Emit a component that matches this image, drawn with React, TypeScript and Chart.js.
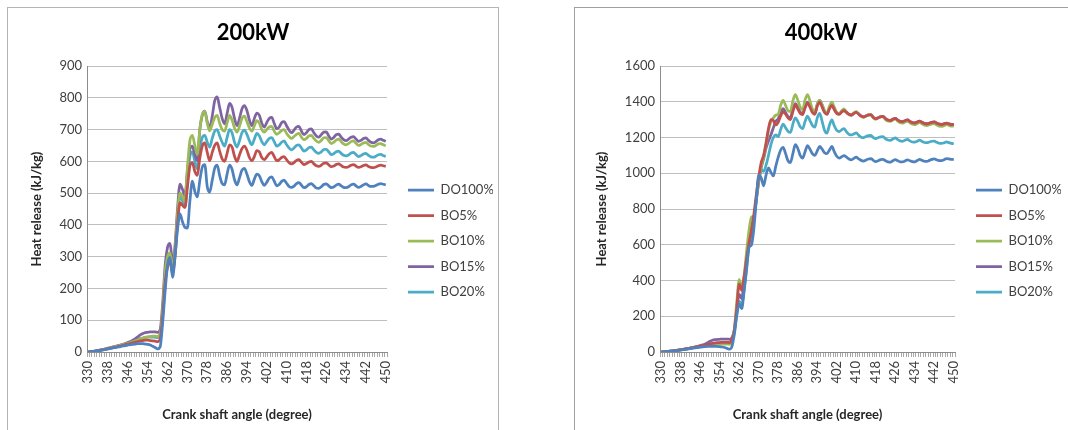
import React, { useEffect, useRef } from "react";
import { Chart, registerables } from "chart.js";
Chart.register(...registerables);

const ANGLES = [
  330, 331, 332, 333, 334, 335, 336, 337, 338, 339,
  340, 341, 342, 343, 344, 345, 346, 347, 348, 349,
  350, 351, 352, 353, 354, 355, 356, 357, 358, 359,
  360, 361, 362, 363, 364, 365, 366, 367, 368, 369,
  370, 371, 372, 373, 374, 375, 376, 377, 378, 379,
  380, 381, 382, 383, 384, 385, 386, 387, 388, 389,
  390, 391, 392, 393, 394, 395, 396, 397, 398, 399,
  400, 401, 402, 403, 404, 405, 406, 407, 408, 409,
  410, 411, 412, 413, 414, 415, 416, 417, 418, 419,
  420, 421, 422, 423, 424, 425, 426, 427, 428, 429,
  430, 431, 432, 433, 434, 435, 436, 437, 438, 439,
  440, 441, 442, 443, 444, 445, 446, 447, 448, 449,
  450,
];
const TICK_ANGLES = [330, 338, 346, 354, 362, 370, 378, 386, 394, 402, 410, 418, 426, 434, 442, 450];
const SERIES_NAMES = ["DO100%", "BO5%", "BO10%", "BO15%", "BO20%"];
const COLORS = ["#4F81BD", "#C0504D", "#9BBB59", "#8064A2", "#4BACC6"];

// ---------- 200 kW ----------
const DO100_200 = [
  0, 1, 2, 3, 4, 5, 7, 8, 10, 11,
  13, 14, 16, 17, 19, 20, 22, 23, 24, 25,
  26, 26, 26, 25, 24, 22, 18, 14, 10, 16,
  90, 190, 275, 298, 235, 300, 385, 435, 410, 392,
  390, 475, 538, 505, 488, 540, 582, 590, 520, 503,
  540, 578, 588, 555, 530, 526, 560, 588, 575, 542,
  526, 548, 572, 578, 560, 536, 524, 544, 560, 555,
  536, 524, 534, 547, 551, 538, 523, 527, 537, 541,
  531, 521, 518, 522, 530, 533, 525, 517, 520, 527,
  530, 523, 516, 515, 520, 527, 529, 523, 517, 519,
  525, 528, 523, 518, 517, 520, 526, 528, 523, 518,
  521, 526, 529, 524, 521, 521, 524, 528, 530, 528,
  526,
];
const BO5_200 = [
  0, 1, 2, 3, 4, 6, 7, 9, 10, 12,
  14, 15, 17, 19, 21, 23, 25, 27, 29, 31,
  33, 35, 36, 37, 37, 36, 35, 34, 33, 40,
  110, 215, 268, 285, 248, 300, 400, 470, 462, 455,
  518, 585, 596, 568, 556, 610, 648, 658, 628, 602,
  628, 650, 658, 632, 608, 600, 625, 652, 645, 616,
  600, 620, 640, 648, 635, 612, 602, 615, 634, 630,
  612, 605, 614, 624, 628, 615, 602, 605, 612, 615,
  605, 596, 592, 596, 603, 605, 597, 590, 593, 598,
  600, 592, 586, 584, 588, 594, 595, 589, 583, 585,
  590, 592, 587, 582, 581, 583, 588, 590, 585, 581,
  583, 587, 589, 584, 581, 580, 582, 586, 588, 586,
  584,
];
const BO10_200 = [
  0, 1, 2, 3, 5, 6, 8, 9, 11, 13,
  15, 17, 19, 21, 23, 25, 27, 30, 32, 35,
  38, 41, 44, 46, 48, 49, 50, 50, 49, 55,
  130, 250, 300, 312, 262, 322, 432, 500, 490, 472,
  580, 665, 682, 650, 622, 700, 748, 757, 720, 696,
  716, 738, 745, 720, 700, 695, 720, 745, 730, 705,
  692, 710, 735, 742, 725, 705, 695, 712, 728, 720,
  700, 692, 700, 708, 710, 695, 685, 690, 697, 700,
  688, 678, 672, 678, 685, 688, 676, 668, 672, 680,
  682, 672, 664, 660, 666, 674, 675, 665, 656, 660,
  667, 670, 662, 655, 652, 656, 662, 664, 657, 650,
  653, 658, 660, 653, 648, 647, 650, 655, 656, 652,
  649,
];
const BO15_200 = [
  0, 1, 2, 4, 5, 7, 8, 10, 12, 14,
  16, 18, 20, 22, 24, 27, 30, 33, 37, 42,
  48, 54, 58, 61, 62, 63, 63, 63, 62, 70,
  150, 270, 330, 342, 282, 335, 450, 528, 512, 492,
  568, 638, 648, 620, 602, 700, 745, 758, 725, 705,
  742, 790, 803, 770, 735, 718, 750, 782, 770, 735,
  712, 735, 765, 775, 760, 730, 712, 735, 752, 745,
  720, 708, 722, 735, 738, 720, 703, 708, 722, 725,
  712, 698, 690, 698, 708, 710, 695, 684, 690, 700,
  702, 690, 680, 676, 684, 692, 693, 680, 670, 675,
  684, 686, 676, 668, 665, 670, 676, 678, 670, 663,
  666, 672, 674, 666, 660, 658, 662, 668, 670, 666,
  663,
];
const BO20_200 = [
  0, 1, 2, 3, 5, 6, 8, 9, 11, 13,
  15, 17, 19, 21, 24, 26, 29, 31, 34, 37,
  40, 42, 44, 46, 47, 47, 47, 46, 45, 60,
  120, 238, 288, 300, 256, 312, 420, 490, 476, 456,
  540, 615, 630, 600, 576, 640, 675, 682, 660, 645,
  672, 695, 700, 680, 660, 648, 675, 700, 690, 660,
  645, 665, 690, 698, 685, 665, 652, 670, 688, 680,
  662, 652, 662, 672, 675, 662, 648, 652, 660, 664,
  652, 642, 636, 642, 650, 652, 642, 632, 636, 643,
  645, 636, 628, 625, 630, 637, 638, 630, 621, 624,
  630, 632, 625, 619, 617, 620, 626, 628, 621, 615,
  618, 623, 625, 619, 614, 613, 616, 621, 622, 618,
  615,
];

// ---------- 400 kW ----------
const DO100_400 = [
  0, 1, 2, 3, 5, 6, 8, 9, 11, 13,
  15, 17, 19, 21, 23, 25, 27, 29, 30, 31,
  32, 32, 32, 31, 30, 28, 25, 20, 16, 30,
  100, 205, 268, 242, 340, 460, 585, 598, 690, 850,
  990, 975, 930, 990, 1030, 1005, 985, 1040, 1090, 1130,
  1145, 1110, 1070, 1060, 1110, 1160, 1140, 1100, 1085, 1120,
  1155, 1135, 1110, 1100, 1125, 1150, 1135, 1115, 1110, 1130,
  1150, 1120, 1095, 1085, 1092, 1098, 1090, 1080, 1075, 1083,
  1090, 1080, 1072, 1068, 1074, 1080, 1082, 1072, 1065, 1070,
  1076, 1078, 1070, 1064, 1062, 1070, 1076, 1070, 1064, 1063,
  1069, 1075, 1070, 1065, 1064, 1071, 1077, 1072, 1067, 1066,
  1072, 1078, 1080, 1075, 1071, 1070, 1076, 1082, 1080, 1077,
  1078,
];
const BO5_400 = [
  0, 1, 2, 4, 5, 7, 9, 11, 13, 15,
  17, 19, 22, 24, 27, 30, 33, 36, 39, 42,
  45, 48, 50, 52, 53, 54, 54, 54, 53, 70,
  120, 250, 380, 345, 420, 520, 610, 680, 770, 880,
  980, 1060, 1100, 1170, 1250, 1300, 1295, 1270, 1285, 1320,
  1345, 1330, 1310, 1300, 1345, 1382, 1360, 1335, 1328, 1365,
  1392, 1370, 1340, 1330, 1375, 1398, 1370, 1340, 1330, 1360,
  1380, 1355, 1335, 1330, 1342, 1350, 1340, 1330, 1325, 1335,
  1341, 1330, 1320, 1315, 1320, 1326, 1327, 1312, 1305, 1310,
  1316, 1318, 1305, 1297, 1295, 1302, 1307, 1297, 1290, 1288,
  1294, 1299, 1290, 1283, 1281, 1286, 1291, 1284, 1278, 1276,
  1280, 1285, 1287, 1280, 1274, 1272, 1276, 1280, 1276, 1272,
  1272,
];
const BO10_400 = [
  0, 1, 2, 3, 5, 6, 8, 10, 12, 14,
  16, 18, 20, 23, 25, 28, 30, 33, 35, 37,
  39, 41, 42, 43, 44, 44, 44, 44, 43, 60,
  130, 280, 405, 362, 430, 560, 680, 755, 760, 860,
  960, 1040, 1090, 1160, 1240, 1290, 1310, 1325, 1330, 1380,
  1408, 1380, 1350, 1345, 1405, 1440, 1410, 1370, 1355, 1410,
  1440, 1405, 1360, 1345, 1385, 1408, 1385, 1350, 1338, 1375,
  1398, 1370, 1340, 1332, 1350, 1360, 1340, 1328, 1324, 1336,
  1345, 1330, 1318, 1312, 1320, 1328, 1330, 1310, 1302, 1310,
  1315, 1316, 1300, 1292, 1290, 1298, 1304, 1292, 1282, 1280,
  1287, 1292, 1282, 1274, 1272, 1278, 1285, 1276, 1269, 1267,
  1271, 1276, 1278, 1270, 1264, 1262, 1266, 1272, 1268, 1264,
  1264,
];
const BO15_400 = [
  0, 1, 2, 4, 5, 7, 9, 11, 13, 15,
  18, 20, 23, 26, 29, 32, 36, 40, 45, 52,
  60, 66, 69, 70, 71, 72, 72, 72, 71, 80,
  125, 240, 322, 298, 400, 510, 610, 700, 750, 850,
  950, 1030, 1080, 1140, 1180, 1215, 1255, 1290, 1305, 1340,
  1362, 1340, 1318, 1312, 1360, 1390, 1370, 1342, 1335, 1375,
  1398, 1375, 1345, 1335, 1385, 1408, 1380, 1345, 1332, 1365,
  1385, 1360, 1338, 1332, 1345, 1352, 1342, 1330, 1326, 1336,
  1342, 1332, 1320, 1316, 1322, 1327, 1328, 1313, 1306, 1311,
  1317, 1318, 1306, 1298, 1296, 1303, 1307, 1298, 1291, 1289,
  1294, 1299, 1290, 1284, 1282, 1287, 1292, 1285, 1279, 1277,
  1281, 1285, 1287, 1281, 1276, 1274, 1277, 1281, 1277, 1274,
  1273,
];
const BO20_400 = [
  0, 1, 2, 4, 5, 7, 9, 11, 13, 15,
  17, 19, 22, 24, 27, 30, 33, 36, 38, 41,
  44, 46, 48, 49, 50, 50, 50, 49, 48, 60,
  110, 215, 285, 258, 350, 470, 590, 665, 745, 850,
  960, 1020, 1010, 1045, 1100, 1160, 1200, 1215, 1205, 1245,
  1275, 1255, 1235, 1228, 1275, 1310, 1290, 1260, 1250, 1290,
  1320, 1295, 1268, 1258, 1310, 1335, 1290, 1240, 1225, 1270,
  1298, 1265, 1240, 1233, 1243, 1250, 1232, 1218, 1214, 1220,
  1226, 1212, 1202, 1199, 1206, 1211, 1212, 1200, 1194, 1199,
  1204, 1205, 1193, 1186, 1184, 1192, 1198, 1188, 1181, 1179,
  1185, 1190, 1181, 1175, 1174, 1179, 1185, 1178, 1172, 1171,
  1175, 1179, 1180, 1173, 1168, 1167, 1170, 1175, 1171, 1167,
  1165,
];

const FONT = "Lato, 'Open Sans', sans-serif";
const CANVAS_W = 480;
const CANVAS_H = 468;

type Props = {
  title: string;
  yMax: number;
  yStep: number;
  series: number[][];
  left: number;
  yAxisWidth: number;
  yTitlePad: number;
};

function HeatChart({ title, yMax, yStep, series, left, yAxisWidth, yTitlePad }: Props) {
  const ref = useRef<HTMLCanvasElement>(null);
  useEffect(() => {
    const chart = new Chart(ref.current as HTMLCanvasElement, {
      type: "line",
      data: {
        labels: ANGLES.map(String),
        datasets: series.map((d, i) => ({
          label: SERIES_NAMES[i],
          data: d,
          borderColor: COLORS[i],
          backgroundColor: COLORS[i],
          borderWidth: 2.75,
          pointRadius: 0,
          cubicInterpolationMode: "monotone" as const,
          yAxisID: "y",
          xAxisID: "x",
        })),
      },
      options: {
        animation: false,
        responsive: false,
        maintainAspectRatio: false,
        devicePixelRatio: 1,
        layout: { padding: 0 },
        events: [],
        plugins: {
          title: {
            display: true,
            text: title,
            color: "#000",
            font: { family: FONT, size: 22, weight: "bold" },
            padding: { top: 12.8, bottom: 19.8 },
          },
          legend: {
            position: "right",
            align: "center",
            maxWidth: 97.5,
            labels: {
              usePointStyle: true,
              pointStyle: "line",
              pointStyleWidth: 26,
              padding: 12.5,
              color: "#404040",
              font: { family: FONT, size: 13 },
            },
          },
          tooltip: { enabled: false },
        },
        scales: {
          x: {
            type: "category",
            offset: true,
            grid: {
              offset: true,
              drawOnChartArea: false,
              drawTicks: true,
              tickLength: 5,
              color: "#a6a6a6",
            },
            border: { display: true, color: "#8c8c8c" },
            ticks: {
              autoSkip: false,
              minRotation: 90,
              maxRotation: 90,
              padding: 4,
              color: "#404040",
              font: { family: FONT, size: 13 },
              callback: (_v: any, idx: number) =>
                TICK_ANGLES.includes(ANGLES[idx]) ? String(ANGLES[idx]) : "",
            },
            title: {
              display: true,
              text: "Crank shaft angle (degree)",
              color: "#262626",
              font: { family: FONT, size: 13, weight: "bold" },
              padding: { top: 0, bottom: 52.2 },
            },
            afterFit: (s: any) => {
              s.height = 123;
            },
          },
          y: {
            type: "linear",
            position: "left",
            min: 0,
            max: yMax,
            ticks: {
              stepSize: yStep,
              padding: 5,
              color: "#404040",
              font: { family: FONT, size: 13 },
              callback: (v: any) => String(v),
            },
            grid: { color: "#bfbfbf", drawTicks: false, lineWidth: 1 },
            border: { display: true, color: "#8c8c8c" },
            title: {
              display: true,
              text: "Heat release (kJ/kg)",
              color: "#262626",
              font: { family: FONT, size: 13, weight: "bold" },
              padding: { top: yTitlePad, bottom: 0 },
            },
            afterFit: (s: any) => {
              s.width = yAxisWidth;
            },
          },
          yr: {
            type: "linear",
            position: "right",
            display: true,
            grid: { display: false },
            border: { display: false },
            ticks: { display: false },
            afterFit: (s: any) => {
              s.width = 8.5;
            },
          },
        },
      } as any,
    });
    return () => chart.destroy();
  }, []);
  return (
    <canvas
      ref={ref}
      width={CANVAS_W}
      height={CANVAS_H}
      style={{ position: "absolute", left, top: 7, width: CANVAS_W, height: CANVAS_H }}
    />
  );
}

export default function App() {
  return (
    <div
      style={{
        position: "fixed",
        left: 0,
        top: 0,
        width: 1068,
        height: 430,
        overflow: "hidden",
        background: "#fff",
      }}
    >
      <div
        style={{
          position: "absolute",
          left: 7,
          top: 7,
          width: 492,
          height: 440,
          border: "1px solid #b4b4b4",
          boxSizing: "border-box",
        }}
      />
      <div
        style={{
          position: "absolute",
          left: 574,
          top: 7,
          width: 600,
          height: 440,
          border: "1px solid #a0a0a0",
          boxSizing: "border-box",
        }}
      />
      <HeatChart
        title="200kW"
        yMax={900}
        yStep={100}
        series={[DO100_200, BO5_200, BO10_200, BO15_200, BO20_200]}
        left={13}
        yAxisWidth={74}
        yTitlePad={16.2}
      />
      <HeatChart
        title="400kW"
        yMax={1600}
        yStep={200}
        series={[DO100_400, BO5_400, BO10_400, BO15_400, BO20_400]}
        left={581}
        yAxisWidth={79}
        yTitlePad={13.2}
      />
    </div>
  );
}
